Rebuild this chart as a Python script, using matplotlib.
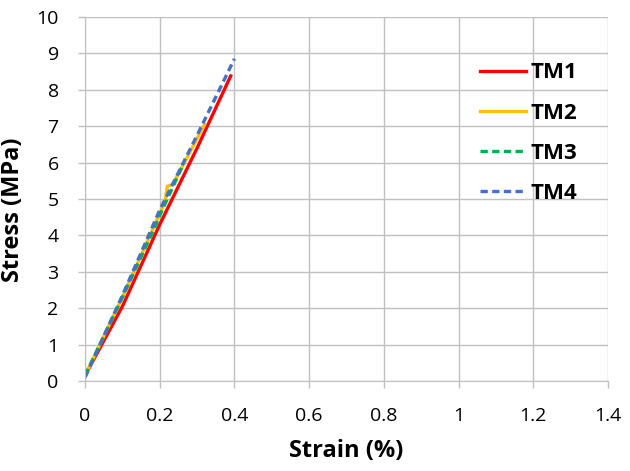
import matplotlib.pyplot as plt

# strain (%) / stress (MPa)
TM1_X = [0.0, 0.10, 0.20, 0.30, 0.39]
TM1_Y = [0.15, 2.05, 4.30, 6.40, 8.38]
TM2_X = [0.0, 0.10, 0.20, 0.215, 0.22, 0.235, 0.32]
TM2_Y = [0.15, 2.30, 4.60, 4.95, 5.35, 5.40, 7.05]
TM3_X = [0.0, 0.10, 0.19, 0.20, 0.265]
TM3_Y = [0.15, 2.30, 4.30, 4.55, 6.00]
TM4_X = [0.0, 0.10, 0.20, 0.30, 0.40]
TM4_Y = [0.10, 2.35, 4.70, 6.75, 8.85]

GRID = "#c0c0c0"

plt.rcParams["font.family"] = ["Open Sans", "DejaVu Sans"]
fig = plt.figure(figsize=(6.3, 4.71), dpi=100)
ax = fig.add_axes([0.135, 0.191, 0.83, 0.773])

ax.plot(TM1_X, TM1_Y, color="#ff0000", lw=2.4, label="TM1")
ax.plot(TM2_X, TM2_Y, color="#ffc000", lw=2.4, label="TM2")
ax.plot(TM3_X, TM3_Y, color="#00b050", lw=2.4, ls=(0, (2.2, 1.3)), label="TM3")
ax.plot(TM4_X, TM4_Y, color="#4472c4", lw=2.4, ls=(0, (2.2, 1.3)), label="TM4")

ax.set_xlim(0, 1.4)
ax.set_ylim(0, 10)
ax.set_xticks([0, 0.2, 0.4, 0.6, 0.8, 1.0, 1.2, 1.4])
ax.set_xticklabels(["0", "0.2", "0.4", "0.6", "0.8", "1", "1.2", "1.4"])
ax.set_yticks(range(0, 11))
ax.grid(True, color=GRID, lw=1.0)
ax.set_axisbelow(True)
for side in ["top", "right"]:
    ax.spines[side].set_visible(False)
for side in ["left", "bottom"]:
    ax.spines[side].set_color(GRID)
ax.tick_params(colors=GRID, labelcolor="black", labelsize=14, length=5, width=1)
ax.tick_params(axis="y", pad=14)
ax.tick_params(axis="x", pad=14)

ax.set_xlabel("Strain (%)", fontsize=17, fontweight="bold")
ax.set_ylabel("Stress (MPa)", fontsize=17, fontweight="bold")
ax.xaxis.set_label_coords(0.5, -0.16)
ax.yaxis.set_label_coords(-0.115, 0.47)

leg = ax.legend(loc="upper right", bbox_to_anchor=(0.98, 0.93), frameon=False,
                prop={"size": 16, "weight": "bold"}, handlelength=2.1,
                handletextpad=0.2, labelspacing=0.86)

fig.savefig("out.png", dpi=100)
